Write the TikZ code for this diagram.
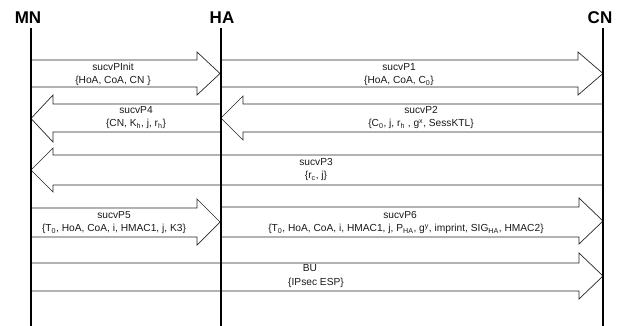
\documentclass[tikz,border=0pt]{standalone}
\usepackage{fontspec}
\setmainfont{Liberation Sans}
\newcommand\sbs[1]{\textsubscript{#1}}
\newcommand\sps[1]{\textsuperscript{#1}}
\begin{document}
\begin{tikzpicture}[x=1pt,y=-1pt,
  lifeline/.style={line width=2.2pt,black},
  blockarrow/.style={draw=black!85,line width=0.7pt,line join=miter},
  actor/.style={font=\fontsize{17}{17}\selectfont\bfseries,inner sep=0pt},
  lbl/.style={font=\fontsize{10.2}{12}\selectfont,inner sep=0pt,text=black!90}]
\useasboundingbox (0,0) rectangle (628,326);
% actors
\node[actor] (mn) at (28,18) {MN};
\node[actor] (ha) at (222,18) {HA};
\node[actor] (cn) at (600,18) {CN};
\coordinate (mnend) at (31,326);
\coordinate (haend) at (221,326);
\coordinate (cnend) at (603,326);
% block arrow: x1 xb x2 bodytop bodybot headtop headbot
\newcommand\blockarr[7]{%
  \draw[blockarrow] (#1,#4) -- (#2,#4) -- (#2,#6) -- (#3,{(#6+#7)/2}) -- (#2,#7) -- (#2,#5) -- (#1,#5);}
\blockarr{31}{197}{220}{60}{87}{52}{95}
\blockarr{221}{578}{603}{60}{87}{52}{95}
\blockarr{221}{53}{31}{104}{132}{95}{142}
\blockarr{603}{243}{221}{104}{132}{96}{140}
\blockarr{603}{53}{31}{155}{185}{148}{192}
\blockarr{31}{197}{220}{208}{237}{199}{245}
\blockarr{221}{579}{603}{207}{237}{198}{244}
\blockarr{31}{579}{603}{263}{291}{253}{299}
% lifelines
\draw[lifeline] (31,28) -- (mnend);
\draw[lifeline,line width=1.8pt] (221,28) -- (haend);
\draw[lifeline] (603,28) -- (cnend);
% labels
\node[lbl] (l1a) at (113,67) {sucvPInit};
\node[lbl] (l1b) at (113,81) {\{HoA, CoA, CN \}};
\node[lbl] (l2a) at (399,67) {sucvP1};
\node[lbl] (l2b) at (399,81) {\{HoA, CoA, C\sbs{0}\}};
\node[lbl] (l3a) at (136,110) {sucvP4};
\node[lbl] (l3b) at (136,124) {\{CN, K\sbs{h}, j, r\sbs{h}\}};
\node[lbl] (l4a) at (421,110) {sucvP2};
\node[lbl] (l4b) at (421,124) {\{C\sbs{0}, j, r\sbs{h} , g\sps{x}, SessKTL\}};
\node[lbl] (l5a) at (316,162) {sucvP3};
\node[lbl] (l5b) at (316,176) {\{r\sbs{c}, j\}};
\node[lbl] (l6a) at (114,215) {sucvP5};
\node[lbl] (l6b) at (114,229) {\{T\sbs{0}, HoA, CoA, i, HMAC1, j, K3\}};
\node[lbl] (l7a) at (400,215) {sucvP6};
\node[lbl] (l7b) at (406,229) {\{T\sbs{0}, HoA, CoA, i, HMAC1, j, P\sbs{HA}, g\sps{y}, imprint, SIG\sbs{HA}, HMAC2\}};
\node[lbl] (l8a) at (310,268) {BU};
\node[lbl] (l8b) at (316,283) {\{IPsec ESP\}};
\end{tikzpicture}
\end{document}
